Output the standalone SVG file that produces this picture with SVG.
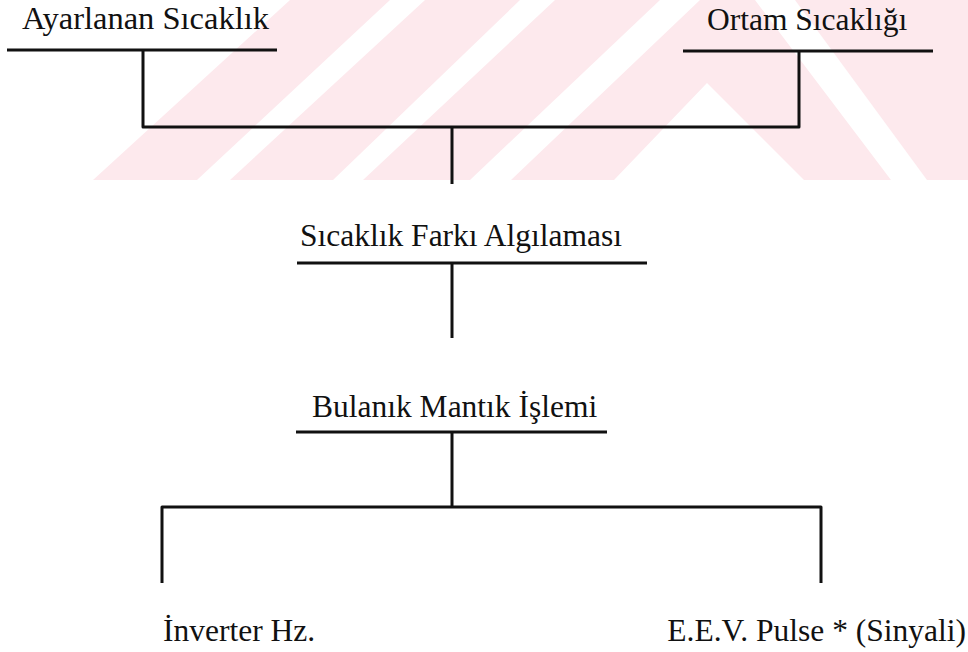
<svg xmlns="http://www.w3.org/2000/svg" width="968" height="652" viewBox="0 0 968 652">
  <style>
    .wm { fill: #fde9ed; stroke: none; }
    .lbl { font-family: "Liberation Serif", "Times New Roman", serif; font-size: 31.5px; fill: #111; }
    .ln { stroke: #111; stroke-width: 3; fill: none; stroke-linecap: butt; stroke-linejoin: round; }
  </style>
  <rect x="0" y="0" width="968" height="652" fill="#ffffff"/>
  <g id="watermark">
    <polygon class="wm" points="93,180 197,180 390,0 290,0"/>
    <polygon class="wm" points="230,180 333,180 520,0 425,0"/>
    <polygon class="wm" points="363,180 470,180 660,0 555,0"/>
    <polygon class="wm" points="511,180 614,180 707,83 804,180 891,180 755,0 700,0"/>
    <polygon class="wm" points="927,180 968,180 968,0 795,0"/>
  </g>
  <g id="node-ayarlanan">
    <text class="lbl" x="22" y="29" style="font-size:32.5px">Ayarlanan Sıcaklık</text>
    <line class="ln" x1="7" y1="50" x2="277" y2="50"/>
  </g>
  <g id="node-ortam">
    <text class="lbl" x="707" y="30">Ortam Sıcaklığı</text>
    <line class="ln" x1="683" y1="51" x2="933" y2="51"/>
  </g>
  <g id="node-fark">
    <text class="lbl" x="300" y="246">Sıcaklık Farkı Algılaması</text>
    <line class="ln" x1="297" y1="263" x2="647" y2="263"/>
  </g>
  <g id="node-bulanik">
    <text class="lbl" x="312" y="417">Bulanık Mantık İşlemi</text>
    <line class="ln" x1="296" y1="432" x2="607" y2="432"/>
  </g>
  <g id="node-inverter">
    <text class="lbl" x="163" y="641">İnverter Hz.</text>
  </g>
  <g id="node-eev">
    <text class="lbl" x="966" y="641" text-anchor="end">E.E.V. Pulse * (Sinyali)</text>
  </g>
  <g id="connectors">
    <polyline class="ln" points="143,50 143,127 799,127 799,51"/>
    <line class="ln" x1="452" y1="127" x2="452" y2="184"/>
    <line class="ln" x1="452" y1="263" x2="452" y2="338"/>
    <line class="ln" x1="452" y1="432" x2="452" y2="507"/>
    <polyline class="ln" points="162,583 162,507 821,507 821,583"/>
  </g>
</svg>
